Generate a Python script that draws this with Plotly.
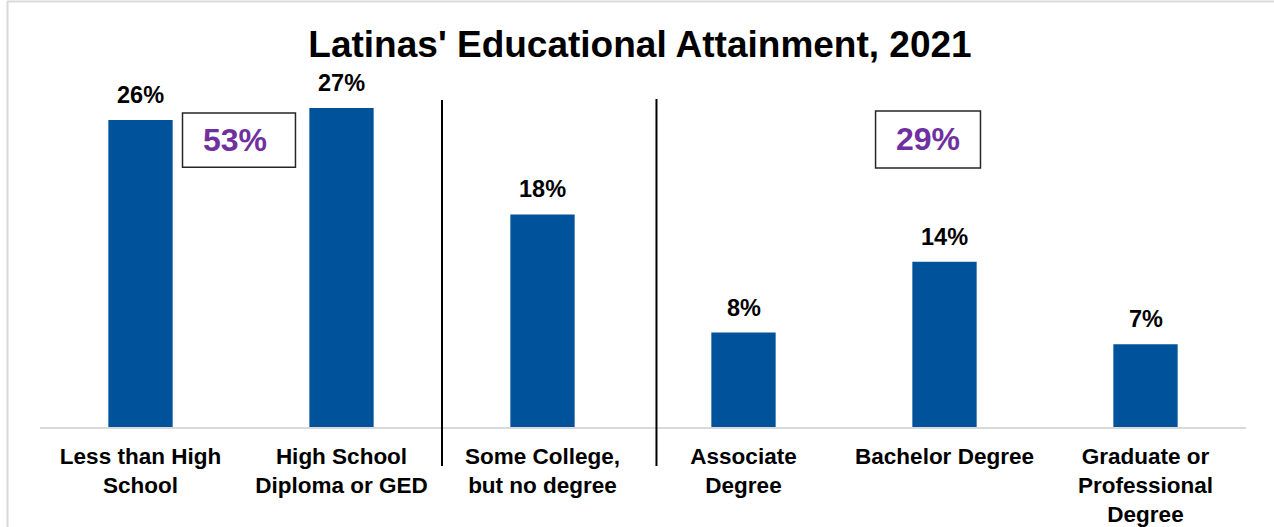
import plotly.graph_objects as go

categories = ["Less than High<br>School", "High School<br>Diploma or GED", "Some College,<br>but no degree",
              "Associate<br>Degree", "Bachelor Degree", "Graduate or<br>Professional<br>Degree"]
values = [26, 27, 18, 8, 14, 7]
group_labels = ["53%", "29%"]

W, H = 1274, 527
ML, MR, MT, MB = 40, 28, 60, 100
PW, PH = W - ML - MR, H - MT - MB
YMAX = 31.07
FONT = "Liberation Sans, Arial, sans-serif"
BAR = "#00539B"
PURPLE = "#7030A0"

def px2x(px):
    return (px - ML) / PW

def py2y(py):
    return (H - MB - py) / PH

fig = go.Figure(go.Bar(
    x=list(range(len(categories))), y=values, marker_color=BAR, marker_line_width=0,
    width=0.32, hoverinfo="skip"))

annotations = []
for i, v in enumerate(values):
    annotations.append(dict(x=i, y=v, text=f"<b>{v}%</b>", showarrow=False, yanchor="bottom",
                            yshift=10, font=dict(family=FONT, size=23.5, color="black")))

# group boxes
boxes = [(0.209, 0.771, 22.0, 26.59), (3.657, 4.179, 21.93, 26.76)]
shapes = []
for (x0, x1, y0, y1), lab in zip(boxes, group_labels):
    shapes.append(dict(type="rect", xref="x", yref="y", x0=x0, x1=x1, y0=y0, y1=y1,
                       line=dict(color="#262626", width=1.5), fillcolor="white", layer="above"))
    annotations.append(dict(x=(x0 + x1) / 2 - (0.02 if lab == "53%" else 0), y=(y0 + y1) / 2,
                            text=f"<b>{lab}</b>", showarrow=False, xanchor="center", yanchor="middle",
                            font=dict(family=FONT, size=32, color=PURPLE)))

# separators
for xv, top in [(1.5, 100), (2.567, 99)]:
    shapes.append(dict(type="line", xref="x", yref="paper", x0=xv, x1=xv,
                       y0=py2y(466), y1=py2y(top), line=dict(color="black", width=2)))

# outer border (light gray)
shapes.append(dict(type="line", xref="paper", yref="paper", x0=px2x(7), x1=px2x(W + 5),
                   y0=py2y(1.5), y1=py2y(1.5), line=dict(color="#d9d9d9", width=2)))
shapes.append(dict(type="line", xref="paper", yref="paper", x0=px2x(7.5), x1=px2x(7.5),
                   y0=py2y(1.5), y1=py2y(H + 5), line=dict(color="#d9d9d9", width=2)))

fig.update_layout(
    width=W, height=H,
    margin=dict(l=ML, r=MR, t=MT, b=MB, autoexpand=False),
    paper_bgcolor="white", plot_bgcolor="white",
    showlegend=False,
    title=dict(text="<b>Latinas' Educational Attainment, 2021</b>", x=640 / W, xref="container",
               xanchor="center", y=1 - 44 / H, yref="container", yanchor="middle",
               font=dict(family=FONT, size=37, color="black")),
    xaxis=dict(tickmode="array", tickvals=list(range(len(categories))),
               ticktext=[f"<b>{c}</b>" for c in categories],
               range=[-0.5, len(categories) - 0.5], showgrid=False, zeroline=False,
               showline=True, linecolor="#d9d9d9", linewidth=1.5, ticks="",
               ticklabelstandoff=8, automargin=False,
               tickfont=dict(family=FONT, size=22.5, color="black")),
    yaxis=dict(range=[0, YMAX], visible=False, showgrid=False, zeroline=False, automargin=False),
    shapes=shapes, annotations=annotations,
    bargap=0.68,
)

fig.write_html("out.html", config={"displayModeBar": False, "staticPlot": True},
               post_script="document.body.style.margin='0';")
